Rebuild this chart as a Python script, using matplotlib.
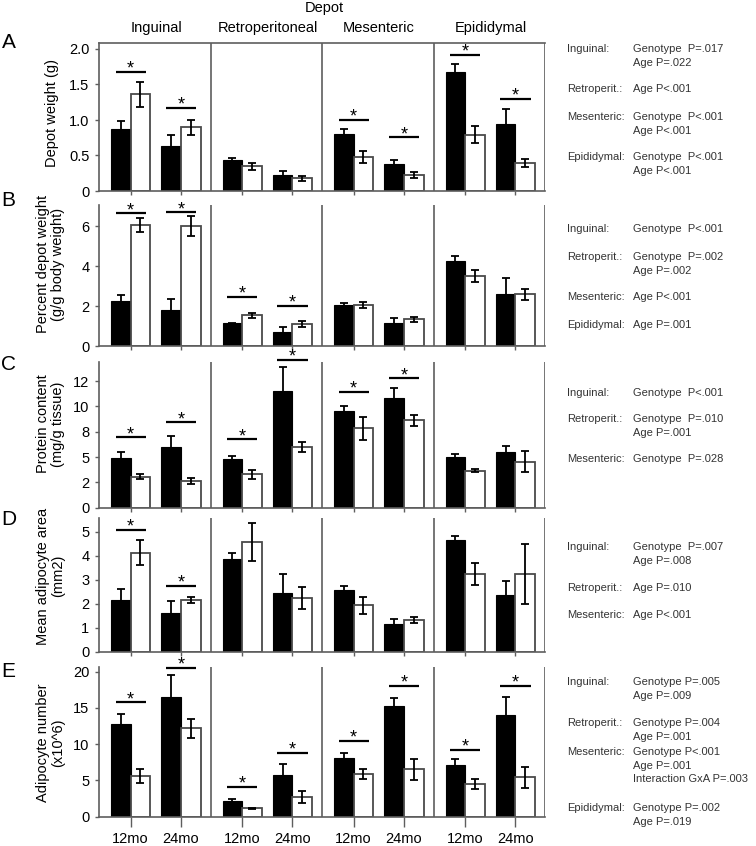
import numpy as np
import matplotlib
matplotlib.use('Agg')
import matplotlib.pyplot as plt

plt.rcParams['font.family'] = ['Liberation Sans', 'DejaVu Sans']

depots = ['Inguinal', 'Retroperitoneal', 'Mesenteric', 'Epididymal']
ages = ['12mo', '24mo']

# values in order: Ing 12, Ing 24, Retro 12, Retro 24, Mes 12, Mes 24, Epi 12, Epi 24
a_black = [0.88, 0.64, 0.44, 0.225, 0.80, 0.375, 1.68, 0.94]
a_black_err = [0.11, 0.15, 0.025, 0.055, 0.07, 0.065, 0.11, 0.215]
a_white = [1.36, 0.90, 0.35, 0.18, 0.48, 0.225, 0.79, 0.40]
a_white_err = [0.18, 0.105, 0.05, 0.035, 0.08, 0.04, 0.12, 0.055]
a_sig = [(0, 1.68), (1, 1.17), (4, 1.00), (5, 0.755), (6, 1.92), (7, 1.30)]

b_black = [2.25, 1.80, 1.13, 0.72, 2.05, 1.13, 4.27, 2.60]
b_black_err = [0.28, 0.57, 0.04, 0.21, 0.10, 0.25, 0.23, 0.78]
b_white = [6.05, 6.00, 1.53, 1.10, 2.05, 1.33, 3.50, 2.58]
b_white_err = [0.33, 0.52, 0.13, 0.13, 0.17, 0.13, 0.28, 0.28]
b_sig = [(0, 6.63), (1, 6.68), (2, 2.47), (3, 2.0)]

c_black = [4.93, 6.02, 4.77, 11.55, 9.54, 10.79, 4.97, 5.49]
c_black_err = [0.56, 1.05, 0.36, 2.35, 0.53, 0.99, 0.29, 0.63]
c_white = [3.06, 2.63, 3.29, 5.99, 7.83, 8.62, 3.65, 4.54]
c_white_err = [0.27, 0.33, 0.41, 0.53, 1.15, 0.58, 0.16, 1.02]
c_sig = [(0, 6.94), (1, 8.42), (2, 6.74), (3, 14.57), (4, 11.45), (5, 12.76)]

d_black = [2.15, 1.60, 3.86, 2.43, 2.56, 1.15, 4.65, 2.36]
d_black_err = [0.46, 0.50, 0.27, 0.79, 0.19, 0.21, 0.18, 0.58]
d_white = [4.125, 2.15, 4.56, 2.22, 1.93, 1.32, 3.24, 3.22]
d_white_err = [0.53, 0.11, 0.80, 0.46, 0.37, 0.125, 0.47, 1.25]
d_sig = [(0, 5.07), (1, 2.75)]

e_black = [12.74, 16.55, 2.2, 5.8, 8.14, 15.26, 7.13, 14.0]
e_black_err = [1.36, 2.95, 0.24, 1.5, 0.69, 1.11, 0.82, 2.5]
e_white = [5.6, 12.18, 1.15, 2.76, 5.93, 6.53, 4.5, 5.47]
e_white_err = [0.92, 1.3, 0.1, 0.83, 0.67, 1.45, 0.64, 1.45]
e_sig = [(0, 15.77), (1, 20.55), (2, 4.14), (3, 8.83), (4, 10.4), (5, 18.0), (6, 9.2), (7, 18.0)]

a_ticks = [0, 0.5, 1.0, 1.5, 2.0]
a_ticklabels = ['0', '0.5', '1.0', '1.5', '2.0']
b_ticks = [0, 2, 4, 6]
b_ticklabels = ['0', '2', '4', '6']
c_ticks = [0, 2.5, 5, 7.5, 10, 12.5]
c_ticklabels = ['0', '2', '5', '8', '10', '12']
d_ticks = [0, 1, 2, 3, 4, 5]
d_ticklabels = ['0', '1', '2', '3', '4', '5']
e_ticks = [0, 5, 10, 15, 20]
e_ticklabels = ['0', '5', '10', '15', '20']

ylabels = ['Depot weight (g)', 'Percent depot weight\n(g/g body weight)',
           'Protein content\n(mg/g tissue)', 'Mean adipocyte area\n(mm2)',
           'Adipocyte number\n(x10^6)']
letters = ['A', 'B', 'C', 'D', 'E']

a_stats = [('Inguinal:', ['Genotype  P=.017', 'Age P=.022']),
           ('Retroperit.:', ['Age P<.001']),
           ('Mesenteric:', ['Genotype  P<.001', 'Age P<.001']),
           ('Epididymal:', ['Genotype  P<.001', 'Age P<.001'])]
b_stats = [('Inguinal:', ['Genotype  P<.001']),
           ('Retroperit.:', ['Genotype  P=.002', 'Age P=.002']),
           ('Mesenteric:', ['Age P<.001']),
           ('Epididymal:', ['Age P=.001'])]
c_stats = [('Inguinal:', ['Genotype  P<.001']),
           ('Retroperit.:', ['Genotype  P=.010', 'Age P=.001']),
           ('Mesenteric:', ['Genotype  P=.028'])]
d_stats = [('Inguinal:', ['Genotype  P=.007', 'Age P=.008']),
           ('Retroperit.:', ['Age P=.010']),
           ('Mesenteric:', ['Age P<.001'])]
e_stats = [('Inguinal:', ['Genotype P=.005', 'Age P=.009']),
           ('Retroperit.:', ['Genotype P=.004', 'Age P=.001']),
           ('Mesenteric:', ['Genotype P<.001', 'Age P=.001', 'Interaction GxA P=.003']),
           ('Epididymal:', ['Genotype P=.002', 'Age P=.019'])]

W, H = 756.0, 846.0
FRAME = '#5e5e5e'


def fx(px):
    return px / W


def fy(py):
    return 1 - py / H


def draw_row(fig, zero_px, top_px, ppu, black, black_err, white, white_err, sig,
             ticks, ticklabels, bottom_row=False, top_line=False):
    left, right = 99.0, 545.0
    ax = fig.add_axes([fx(left), fy(zero_px), (right - left) / W, (zero_px - top_px) / H])
    ax.set_xlim(0, 4)
    ax.set_ylim(0, (zero_px - top_px) / ppu)

    centers = []
    for k in range(4):
        centers += [k + 0.284, k + 0.735]
    centers = np.array(centers)
    bw = 0.176

    ax.bar(centers - bw / 2, black, bw, color='black', edgecolor='black', linewidth=0.8,
           yerr=black_err, error_kw=dict(ecolor='black', elinewidth=1.3, capsize=3, capthick=1.3),
           zorder=2)
    ax.bar(centers + bw / 2, white, bw, color='white', edgecolor='#4a4a4a', linewidth=1.3,
           yerr=white_err, error_kw=dict(ecolor='black', elinewidth=1.3, capsize=3, capthick=1.3),
           zorder=2)

    # significance bars with asterisk
    for idx, y in sig:
        c = centers[idx]
        ax.plot([c - 0.135, c + 0.135], [y, y], color='black', lw=1.6, clip_on=False,
                solid_capstyle='butt', zorder=3)
        ax.annotate('*', (c, y), xytext=(0, -1.2), textcoords='offset points',
                    ha='center', va='baseline', fontsize=13, annotation_clip=False)

    for k in [1, 2, 3, 4]:
        ax.axvline(k, color=FRAME, lw=1.2, zorder=1)

    for s in ['top', 'right']:
        ax.spines[s].set_visible(False)
    if top_line:
        ax.spines['top'].set_visible(True)
        ax.spines['top'].set_color(FRAME)
        ax.spines['top'].set_linewidth(1.2)
    ax.spines['left'].set_color(FRAME)
    ax.spines['left'].set_linewidth(1.2)
    ax.spines['bottom'].set_color(FRAME)
    ax.spines['bottom'].set_linewidth(1.2)

    ax.set_yticks(ticks)
    ax.set_yticklabels(ticklabels)
    ax.tick_params(axis='y', direction='out', length=3, width=1, color=FRAME,
                   labelsize=10.5, pad=4)
    ax.set_xticks(centers)
    if bottom_row:
        ax.set_xticklabels(ages * 4)
        ax.tick_params(axis='x', direction='out', length=7, width=1, color=FRAME,
                       labelsize=10.5, pad=4)
    else:
        ax.set_xticklabels([])
        ax.tick_params(axis='x', direction='out', length=3, width=1, color=FRAME)
    return ax


def draw_stats(fig, stats, group_y):
    for (name, lines), y0 in zip(stats, group_y):
        fig.text(fx(567), fy(y0), name, fontsize=8, color='#333333', va='center', ha='left')
        for i, line in enumerate(lines):
            fig.text(fx(633), fy(y0 + i * 13.6), line, fontsize=8, color='#333333',
                     va='center', ha='left')


def main():
    fig = plt.figure(figsize=(7.56, 8.46), dpi=100)

    # zero line px, top px, px per unit
    rows = [
        (191.0, 43.0, 71.0, a_black, a_black_err, a_white, a_white_err, a_sig, a_ticks, a_ticklabels),
        (346.0, 205.0, 20.0, b_black, b_black_err, b_white, b_white_err, b_sig, b_ticks, b_ticklabels),
        (507.7, 362.0, 10.13, c_black, c_black_err, c_white, c_white_err, c_sig, c_ticks, c_ticklabels),
        (651.7, 518.0, 24.0, d_black, d_black_err, d_white, d_white_err, d_sig, d_ticks, d_ticklabels),
        (816.7, 667.0, 7.25, e_black, e_black_err, e_white, e_white_err, e_sig, e_ticks, e_ticklabels),
    ]
    for i, r in enumerate(rows):
        draw_row(fig, *r, bottom_row=(i == 4), top_line=(i == 0))

    # panel letters and y labels
    letter_y = [43, 201, 364, 519, 671]
    label_pos = [(52, 113), (50.5, 264), (50.5, 424), (50.5, 576), (50.5, 743)]
    for letter, ly, lab, (lx, lyy) in zip(letters, letter_y, ylabels, label_pos):
        fig.text(fx(8.5), fy(ly), letter, fontsize=15, ha='center', va='center')
        fig.text(fx(lx), fy(lyy), lab, fontsize=10.5, rotation=90, ha='center', va='center',
                 multialignment='center', linespacing=1.15)

    # headers
    fig.text(fx(324), fy(8), 'Depot', fontsize=10.5, ha='center', va='center')
    for name, cx in zip(depots, [156, 268, 379, 491]):
        fig.text(fx(cx), fy(28), name, fontsize=10.5, ha='center', va='center')

    draw_stats(fig, a_stats, [49, 89, 117, 157])
    draw_stats(fig, b_stats, [229, 257, 297, 325])
    draw_stats(fig, c_stats, [393, 419, 459])
    draw_stats(fig, d_stats, [547, 588, 615])
    draw_stats(fig, e_stats, [682, 723, 752, 808])

    fig.savefig('out.png', dpi=100)


if __name__ == '__main__':
    main()
